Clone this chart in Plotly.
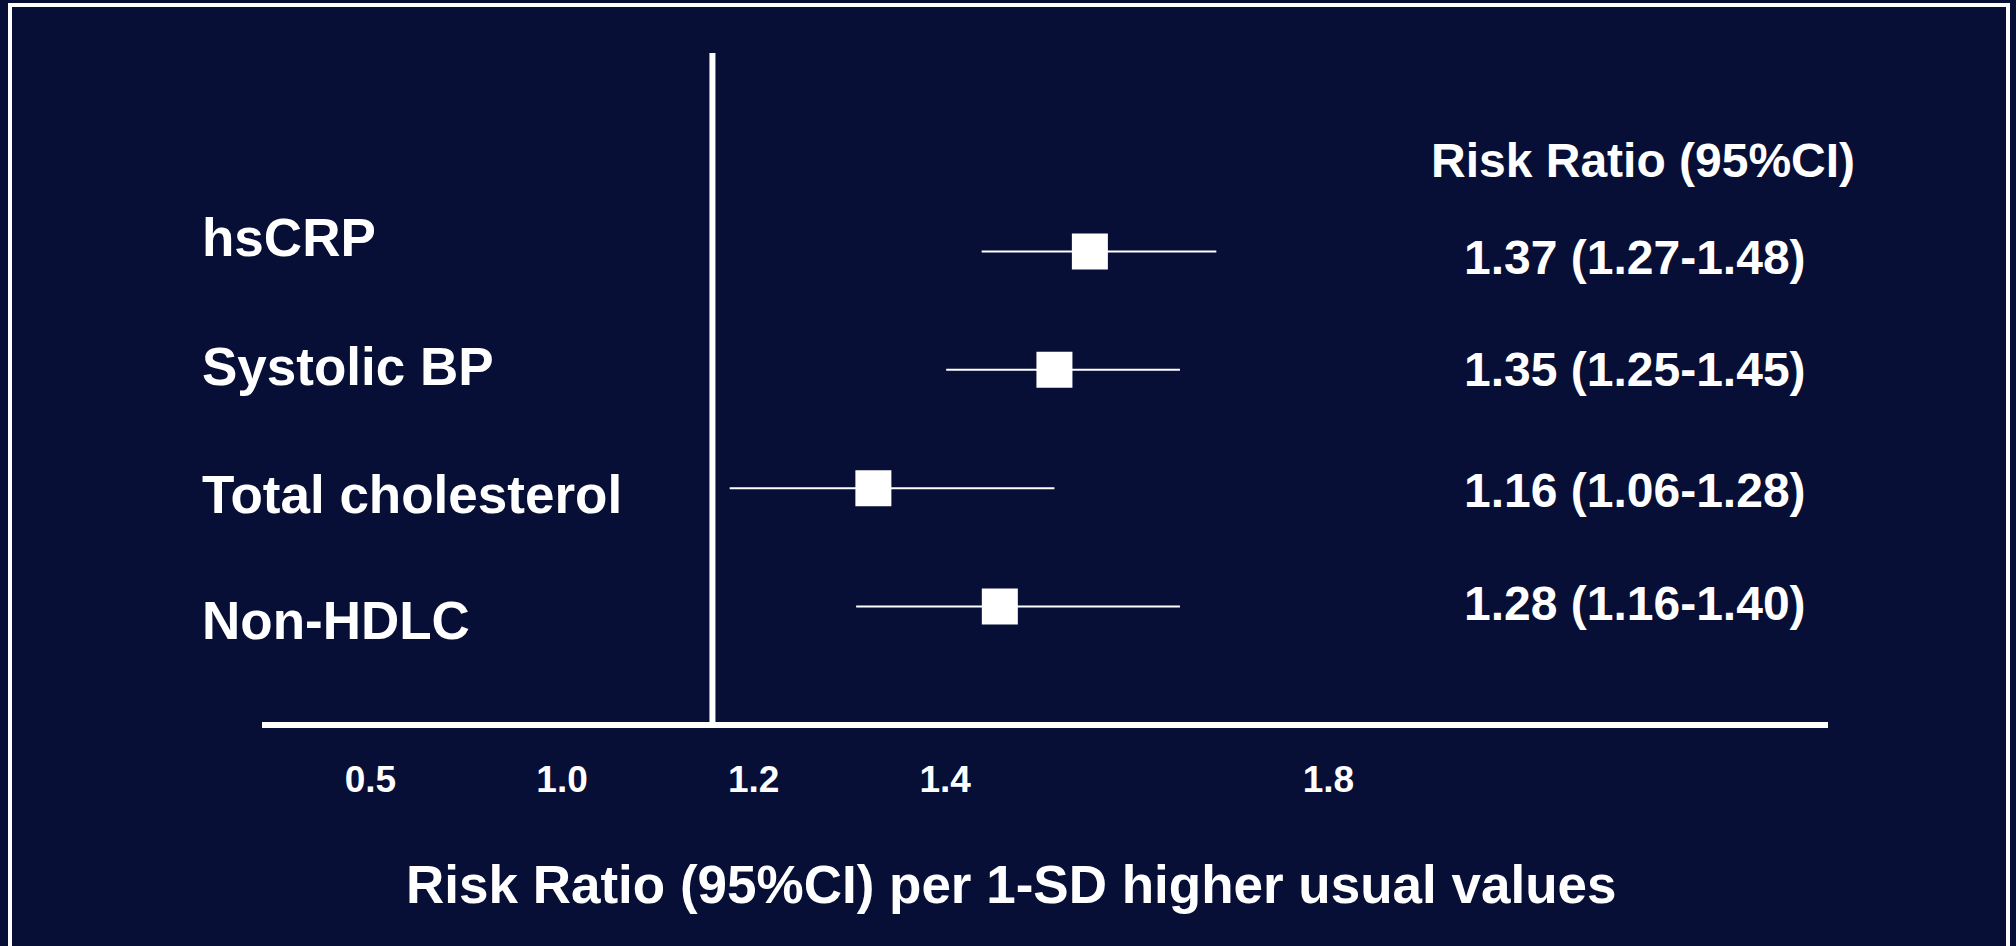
import plotly.graph_objects as go

# ---------------- data ----------------
categories = ["hsCRP", "Systolic BP", "Total cholesterol", "Non-HDLC"]

# where each square / CI line is drawn, read against the slide's own axis
rr_plotted = [1.551, 1.514, 1.325, 1.457]
ci_low_plotted = [1.438, 1.401, 1.175, 1.307]
ci_high_plotted = [1.683, 1.645, 1.514, 1.645]

# printed risk ratios (right-hand column)
rr_text = [1.37, 1.35, 1.16, 1.28]
ci_low_text = [1.27, 1.25, 1.06, 1.16]
ci_high_text = [1.48, 1.45, 1.28, 1.40]

tick_labels = ["0.5", "1.0", "1.2", "1.4", "1.8"]
tick_positions = [0.8, 1.0, 1.2, 1.4, 1.8]
reference_line = 1.157

header_text = "Risk Ratio (95%CI)"
x_title = "Risk Ratio (95%CI) per 1-SD higher usual values"

# ---------------- layout constants ----------------
W, H = 2016, 946
PL, PR, PT, PB = 262, 1828, 53, 725
BG = "#070f36"
FONT = "Liberation Sans, Arial, sans-serif"
X_RANGE = [0.6868, 2.3215]
Y_RANGE = [4.0, -1.676]
label_yshift = [14, 3, -6, -14]
value_yshift = [-6, 0, -2, 3]


def px_x(px):
    return (px - PL) / (PR - PL)


def px_y(py):
    return (PB - py) / (PB - PT)


fig = go.Figure()
fig.add_trace(
    go.Scatter(
        x=rr_plotted,
        y=categories,
        mode="markers",
        marker=dict(symbol="square", size=36, color="white", line=dict(width=0)),
        error_x=dict(
            type="data",
            symmetric=False,
            array=[h - e for h, e in zip(ci_high_plotted, rr_plotted)],
            arrayminus=[e - l for e, l in zip(rr_plotted, ci_low_plotted)],
            color="white",
            thickness=2,
            width=0,
        ),
        hoverinfo="skip",
        showlegend=False,
    )
)

annotations = []
for cat, ys in zip(categories, label_yshift):
    annotations.append(
        dict(
            x=px_x(200), xref="paper", y=cat, yref="y", yshift=ys,
            text=cat, showarrow=False, xanchor="left", yanchor="middle",
            font=dict(family=FONT, size=53, color="white", weight="bold"),
        )
    )
for cat, r, lo, hi, ys in zip(categories, rr_text, ci_low_text, ci_high_text, value_yshift):
    annotations.append(
        dict(
            x=px_x(1635), xref="paper", y=cat, yref="y", yshift=ys,
            text=f"{r:.2f} ({lo:.2f}-{hi:.2f})", showarrow=False,
            xanchor="center", yanchor="middle",
            font=dict(family=FONT, size=48, color="white", weight="bold"),
        )
    )
annotations.append(
    dict(
        x=px_x(1643), xref="paper", y=px_y(160), yref="paper",
        text=header_text, showarrow=False, xanchor="center", yanchor="middle",
        font=dict(family=FONT, size=48, color="white", weight="bold"),
    )
)
annotations.append(
    dict(
        x=px_x(1011), xref="paper", y=px_y(884), yref="paper",
        text=x_title, showarrow=False, xanchor="center", yanchor="middle",
        font=dict(family=FONT, size=53, color="white", weight="bold"),
    )
)

shapes = [
    # slide frame
    dict(type="rect", xref="paper", yref="paper",
         x0=px_x(10), x1=px_x(2008), y0=px_y(5), y1=px_y(980),
         line=dict(color="white", width=4), fillcolor="rgba(0,0,0,0)", layer="below"),
    # horizontal axis line
    dict(type="line", xref="paper", yref="paper", x0=0, x1=1, y0=0, y1=0,
         line=dict(color="white", width=6)),
    # vertical reference line
    dict(type="line", xref="x", yref="paper", x0=reference_line, x1=reference_line,
         y0=0, y1=1, line=dict(color="white", width=6)),
]

fig.update_layout(
    width=W, height=H,
    margin=dict(l=PL, r=W - PR, t=PT, b=H - PB, pad=0),
    paper_bgcolor=BG, plot_bgcolor=BG,
    annotations=annotations, shapes=shapes,
    xaxis=dict(
        range=X_RANGE, tickvals=tick_positions, ticktext=tick_labels,
        showgrid=False, zeroline=False, showline=False, ticks="",
        tickfont=dict(family=FONT, size=37, color="white", weight="bold"),
        ticklabelstandoff=29, fixedrange=True,
    ),
    yaxis=dict(
        type="category", categoryorder="array", categoryarray=categories,
        range=Y_RANGE, showgrid=False, zeroline=False, showline=False,
        showticklabels=False, ticks="", fixedrange=True,
    ),
)

fig.write_html(
    "out.html",
    config={"displayModeBar": False},
    post_script="document.body.style.margin='0';document.body.style.overflow='hidden';",
)
